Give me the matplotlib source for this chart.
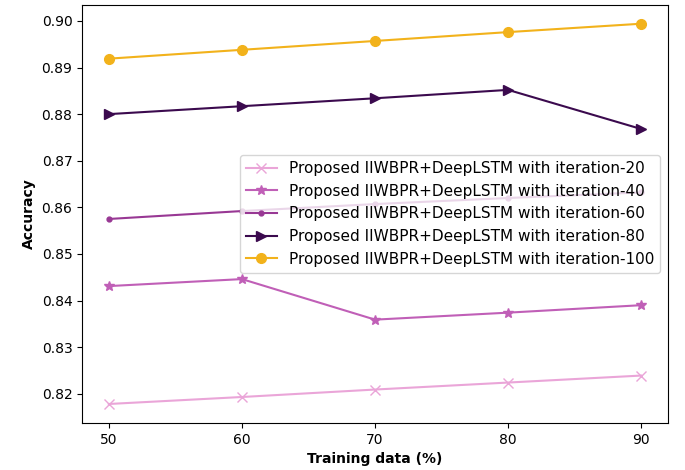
import matplotlib
matplotlib.use("Agg")
import matplotlib.pyplot as plt

# training data share (%)
training = [50, 60, 70, 80, 90]

acc_it20 = [0.8178, 0.8193, 0.8209, 0.8224, 0.8239]
acc_it40 = [0.8431, 0.8446, 0.8359, 0.8374, 0.8390]
acc_it60 = [0.8575, 0.8592, 0.8607, 0.8620, 0.8632]
acc_it80 = [0.8800, 0.8817, 0.8834, 0.8852, 0.8768]
acc_it100 = [0.8919, 0.8938, 0.8957, 0.8976, 0.8994]

series = [
    (acc_it20, "x", "#eaa5d8", "Proposed IIWBPR+DeepLSTM with iteration-20"),
    (acc_it40, "*", "#c05fb7", "Proposed IIWBPR+DeepLSTM with iteration-40"),
    (acc_it60, ".", "#983894", "Proposed IIWBPR+DeepLSTM with iteration-60"),
    (acc_it80, ">", "#3b0a4e", "Proposed IIWBPR+DeepLSTM with iteration-80"),
    (acc_it100, "o", "#f2b21b", "Proposed IIWBPR+DeepLSTM with iteration-100"),
]

fig, ax = plt.subplots(figsize=(6.85, 4.7), dpi=100)
for vals, mk, col, lab in series:
    ax.plot(training, vals, marker=mk, color=col, label=lab, linewidth=1.5, markersize=7)

ax.set_xticks(training)
ax.set_yticks([0.82, 0.83, 0.84, 0.85, 0.86, 0.87, 0.88, 0.89, 0.90])
ax.set_xlabel("Training data (%)", fontweight="bold")
ax.set_ylabel("Accuracy", fontweight="bold")
ax.legend(loc="center right", fontsize=11)

fig.subplots_adjust(left=0.12, right=0.975, top=0.99, bottom=0.1)
fig.savefig("out.png", dpi=100)
